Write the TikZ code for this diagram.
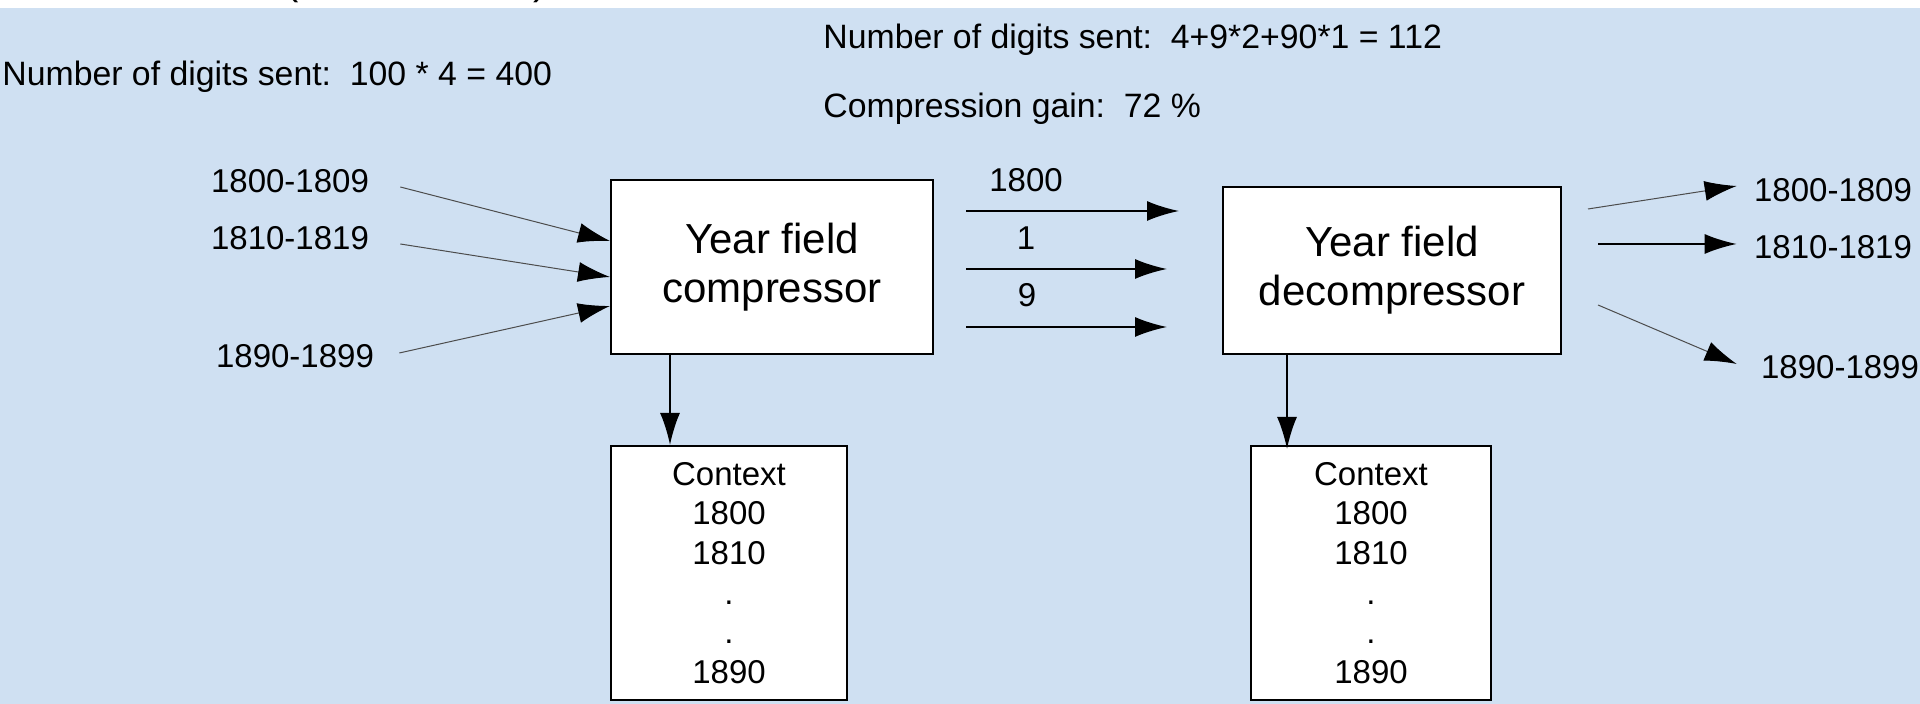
\documentclass[tikz,border=0pt]{standalone}
\usepackage{fontspec}
\setmainfont{Liberation Sans}
\usetikzlibrary{arrows.meta,calc}
\definecolor{bgblue}{RGB}{207,224,242}
\tikzset{
  lbl/.style={inner sep=0pt,font=\fontsize{16.5}{19.8}\selectfont},
  toptxt/.style={inner sep=0pt,font=\fontsize{16.9}{20}\selectfont},
  box/.style={draw=black,line width=1pt,fill=white,inner sep=0pt,align=center},
  bigtxt/.style={font=\fontsize{21}{24.5}\selectfont},
  smalltxt/.style={font=\fontsize{16.5}{19.8}\selectfont},
  arr/.style={line width=1pt,-{Latex[length=16pt,width=10pt]}},
  thinarr/.style={line width=0.5pt,draw=black!70,-{Latex[length=16pt,width=10pt,color=black]}}
}
\begin{document}
\begin{tikzpicture}[x=0.5pt,y=0.5pt]
\useasboundingbox (0,0) rectangle (1920,704);
\clip (0,0) rectangle (1920,704);
\fill[white] (0,0) rectangle (1920,704);
\fill[bgblue] (0,0) rectangle (1920,696);
% cut-off title fragments
\node[anchor=base,inner sep=0pt,font=\fontsize{20}{24}\selectfont] (tl) at (292,709) {(};
\node[anchor=base,inner sep=0pt,font=\fontsize{20}{24}\selectfont] (tr) at (540,709) {)};
% top texts
\node[toptxt,anchor=base west] (sentA) at (2,618) {Number of digits sent:\ \ 100 * 4 = 400};
\node[toptxt,anchor=base west] (sentB) at (823,655) {Number of digits sent:\ \ 4+9*2+90*1 = 112};
\node[toptxt,anchor=base west] (gain) at (823,586) {Compression gain:\ \ 72 \%};
% boxes
\node[box,bigtxt,minimum width=161pt,minimum height=87pt] (comp) at (772,437) {Year field\\compressor};
\node[box,bigtxt,minimum width=169pt,minimum height=83.5pt] (decomp) at (1392,433.5) {Year field\\decompressor};
\node[box,smalltxt,minimum width=118pt,minimum height=127pt] (ctxL) at (729,131) {Context\\1800\\1810\\.\\.\\1890};
\node[box,smalltxt,minimum width=120pt,minimum height=127pt] (ctxR) at (1371,131) {Context\\1800\\1810\\.\\.\\1890};
% input labels
\node[lbl] (L1) at (290,523) {1800-1809};
\node[lbl] (L2) at (290,466) {1810-1819};
\node[lbl] (L3) at (295,348) {1890-1899};
% output labels
\node[lbl] (R1) at (1833,514) {1800-1809};
\node[lbl] (R2) at (1833,457) {1810-1819};
\node[lbl] (R3) at (1840,337) {1890-1899};
% middle labels
\node[lbl] (m1) at (1026,524) {1800};
\node[lbl] (m2) at (1026,466) {1};
\node[lbl] (m3) at (1027,409) {9};
% input arrows
\draw[thinarr] ([shift={(31,-6)}]L1.east) -- ([shift={(0,26)}]comp.west);
\draw[thinarr] ([shift={(31,-6)}]L2.east) -- ([shift={(0,-10)}]comp.west);
\draw[thinarr] ([shift={(25,3)}]L3.east) -- ([shift={(0,-39)}]comp.west);
% middle arrows
\draw[arr] ([shift={(32,56)}]comp.east) -- ([shift={(-43,59.5)}]decomp.west);
\draw[arr] ([shift={(32,-2)}]comp.east) -- ([shift={(-55,1.5)}]decomp.west);
\draw[arr] ([shift={(32,-60)}]comp.east) -- ([shift={(-55,-56.5)}]decomp.west);
% output arrows
\draw[thinarr] ([shift={(26,61.5)}]decomp.east) -- ([shift={(-17,4)}]R1.west);
\draw[arr] ([shift={(36,26.5)}]decomp.east) -- ([shift={(-17,3)}]R2.west);
\draw[thinarr] ([shift={(36,-34.5)}]decomp.east) -- ([shift={(-24,3)}]R3.west);
% down arrows
\draw[arr] ([shift={(-102,0)}]comp.south) -- ([shift={(-59,0)}]ctxL.north);
\draw[arr] ([shift={(-105,0)}]decomp.south) -- ([shift={(-84,-4)}]ctxR.north);
\end{tikzpicture}
\end{document}
